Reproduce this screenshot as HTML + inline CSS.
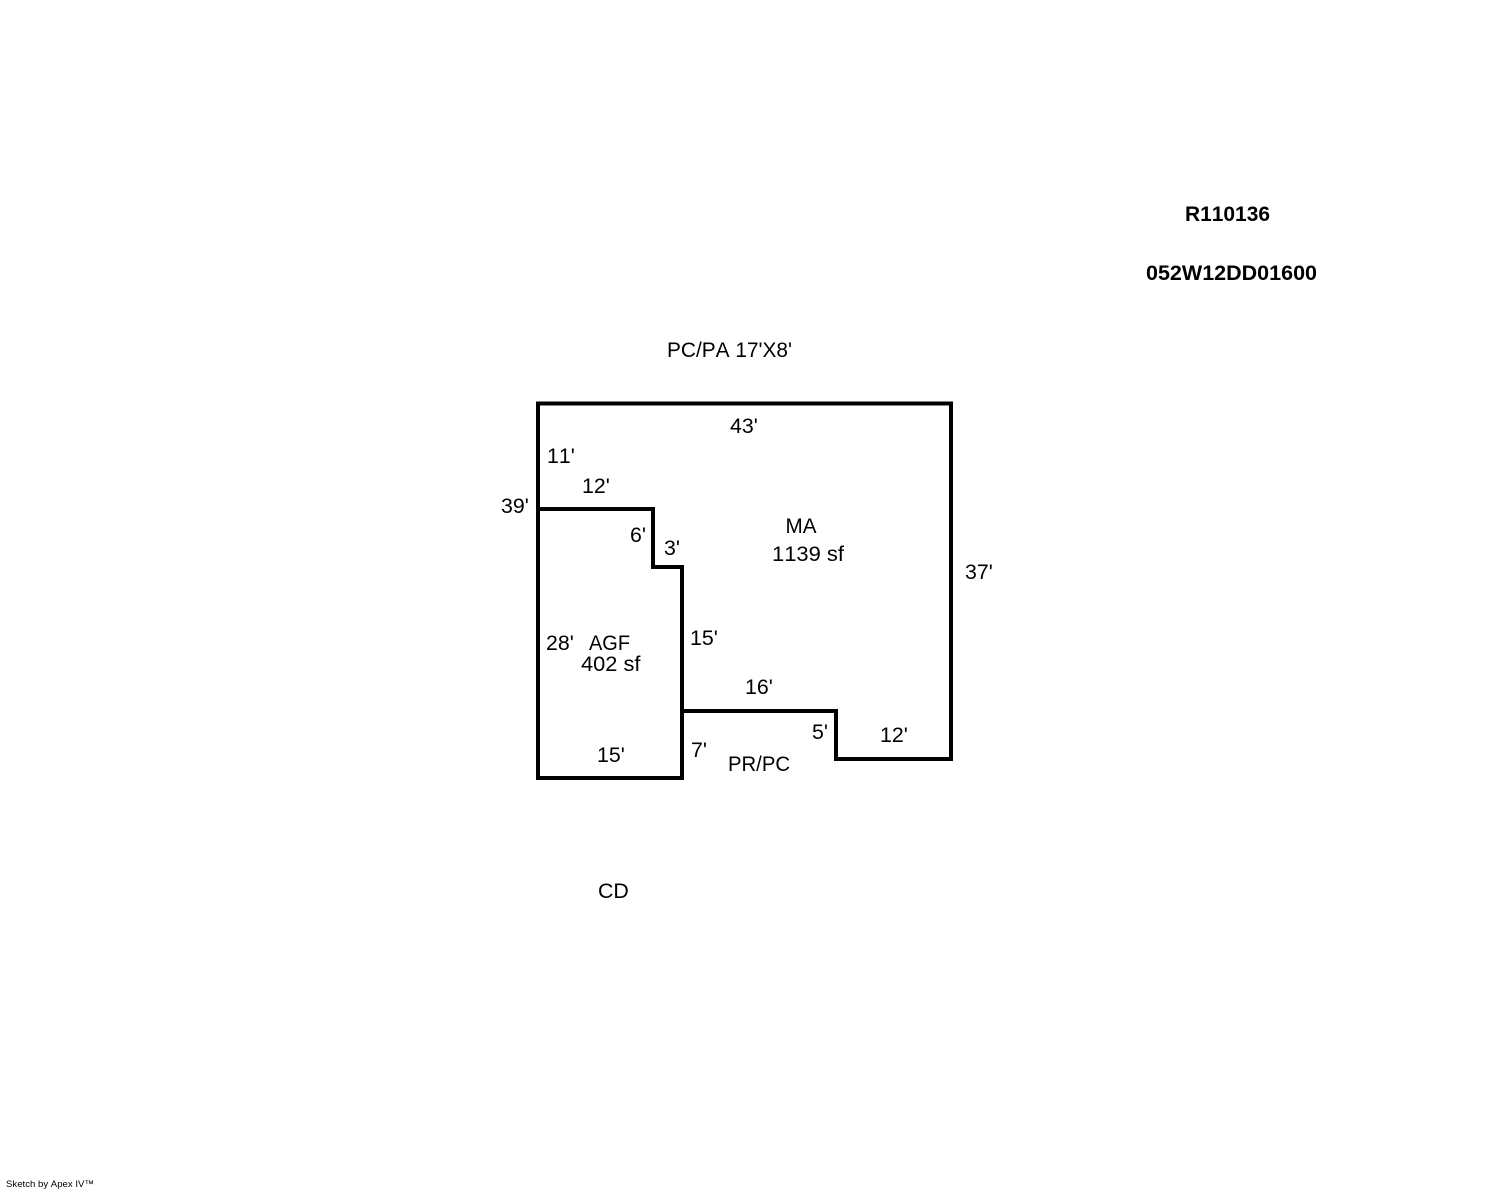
<!DOCTYPE html>
<html><head><meta charset="utf-8"><style>
html,body{margin:0;padding:0;background:#fff}
svg{display:block}
text{font-family:"Liberation Sans",Arial,sans-serif;font-size:21.33px;fill:#000;font-kerning:none}
.b{font-weight:bold}
</style></head><body>
<svg width="1488" height="1190" viewBox="0 0 1488 1190" xmlns="http://www.w3.org/2000/svg">
<rect width="1488" height="1190" fill="#fff"/>
<g fill="none" stroke="#000" stroke-width="4" shape-rendering="crispEdges" stroke-linejoin="miter" stroke-linecap="square">
<path d="M538 403.5H951V759H836V711H682V778H538Z"/>
<path d="M538 509H653V567H682V711"/>
</g>
<text class="b" x="1185" y="221" textLength="85" lengthAdjust="spacingAndGlyphs">R110136</text>
<text class="b" x="1146" y="280" textLength="171" lengthAdjust="spacingAndGlyphs">052W12DD01600</text>
<text x="667" y="357" textLength="125" lengthAdjust="spacingAndGlyphs">PC/PA 17'X8'</text>
<text x="730" y="433">43'</text>
<text x="547" y="463">11'</text>
<text x="582" y="493">12'</text>
<text x="501" y="513">39'</text>
<text x="630" y="542">6'</text>
<text x="664" y="555">3'</text>
<text x="785.5" y="533" textLength="31" lengthAdjust="spacingAndGlyphs">MA</text>
<text x="772" y="561" textLength="72" lengthAdjust="spacingAndGlyphs">1139 sf</text>
<text x="965" y="579">37'</text>
<text x="546" y="650">28'</text>
<text x="589" y="650" textLength="41" lengthAdjust="spacingAndGlyphs">AGF</text>
<text x="581" y="671" textLength="59.5" lengthAdjust="spacingAndGlyphs">402 sf</text>
<text x="690" y="645">15'</text>
<text x="745" y="694">16'</text>
<text x="812" y="739">5'</text>
<text x="880" y="742">12'</text>
<text x="691" y="757">7'</text>
<text x="728" y="771" textLength="62" lengthAdjust="spacingAndGlyphs">PR/PC</text>
<text x="597" y="762">15'</text>
<text x="598" y="898">CD</text>
<text x="6" y="1187" style="font-size:9.5px" textLength="88" lengthAdjust="spacingAndGlyphs">Sketch by Apex IV™</text>
</svg>
</body></html>
